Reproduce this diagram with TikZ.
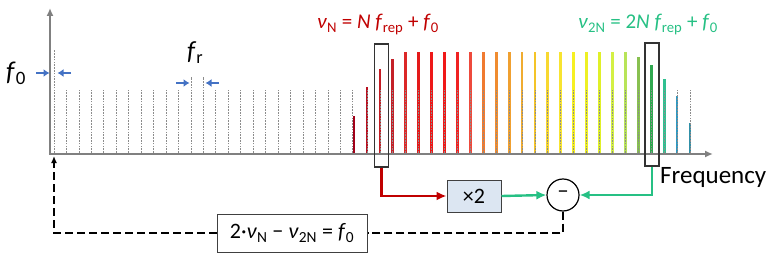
\documentclass[tikz,border=0pt]{standalone}
\usepackage{fontspec}
\setmainfont{Carlito}
\usetikzlibrary{arrows.meta,positioning}

\definecolor{combred}{HTML}{C00000}
\definecolor{combgreen}{HTML}{26C084}
\definecolor{gapblue}{HTML}{4472C4}
\definecolor{axisgray}{HTML}{808080}
\definecolor{opfill}{HTML}{DCE6F2}

\begin{document}
\begin{tikzpicture}[x=1pt,y=-1pt,
    axis/.style={draw=axisgray,line width=2.4pt,-{Latex[length=8pt,width=7pt]}},
    tooth/.style={draw=black!45,line width=0.8pt,dash pattern=on 1.6pt off 1.2pt},
    mode/.style={line width=2.8pt},
    pick/.style={draw=black!80,line width=1.2pt,minimum width=14pt,
        minimum height=123pt,inner sep=0pt},
    gap/.style={draw=gapblue,line width=2.4pt,-{Latex[length=6pt,width=8pt]}},
    opbox/.style={draw=black!75,line width=1pt,fill=opfill,
        minimum width=54pt,minimum height=32pt,font=\fontsize{22}{24}\selectfont},
    opcirc/.style={draw=black,line width=1.2pt,circle,minimum size=32pt,
        inner sep=0pt,font=\fontsize{22}{24}\selectfont},
    result/.style={draw=black!75,line width=1pt,minimum width=150pt,
        minimum height=38pt,font=\fontsize{22}{24}\selectfont},
    feed/.style={line width=2.4pt,-{Latex[length=10pt,width=9pt]}},
    back/.style={line width=2.4pt,dash pattern=on 8pt off 4pt},
    lbl/.style={inner sep=0pt,anchor=base west}
]
\useasboundingbox (0,0) rectangle (777,262);

% axes
\coordinate (origin) at (50,154);
\coordinate (ytop) at (50,8);
\coordinate (xend) at (713,154);
\draw[axis] (origin) -- (ytop);
\draw[axis] ([xshift=-1.2pt]origin) -- (xend);

% coloured modes
\foreach \k/\top/\col in {24/116/A00018,25/87/B81020,26/69/C41C24,27/59/C42028,
    28/52/DC2828,29/52/E41A1A,30/52/EE1818,31/52/F01818,32/52/F02222,
    33/52/EE4A3C,34/52/F07A30,35/52/F08C30,36/52/F0A030,37/52/F0AC30,
    38/52/F4C428,39/52/F8D830,40/52/F8E430,41/52/F6F020,42/52/EEF024,
    43/52/E0F028,44/52/D4F044,45/52/B8E458,46/57/88C050,47/65/30A850,
    48/79/30C090,49/96/3098C0,50/123/3090A8}{
  \pgfmathsetmacro\xk{367+12.92*(\k-25)}
  \definecolor{modecol}{HTML}{\col}
  \draw[mode,draw=modecol] (\xk,152.8) -- (\xk,\top);
}

% comb teeth
\draw[tooth] (54,152.8) -- (54,50);
\foreach \k in {1,...,50}{
  \pgfmathsetmacro\xk{ifthenelse(\k<25,54+12.45*\k,367+12.92*(\k-25))}
  \pgfmathsetmacro\tk{ifthenelse(\k==11 || \k==12,77,90)}
  \draw[tooth] (\xk,152.8) -- (\xk,\tk);
}

% offset and spacing
\node[lbl,font=\fontsize{27}{28}\selectfont] (lblf0) at (6,81) {\textit{f}\textsubscript{0}};
\draw[gap] (36,73) -- (49.5,73);
\draw[gap] (71,73) -- (57.5,73);
\node[lbl,font=\fontsize{26}{28}\selectfont] (lblfr) at (187,60) {\textit{f}\textsubscript{r}};
\draw[gap] (176,83) -- (189.5,83);
\draw[gap] (219,83) -- (205.5,83);

% selected modes
\node[pick] (boxN) at (381.5,105.5) {};
\node[pick] (box2N) at (652,104.5) {};
\node[lbl,text=combred,font=\fontsize{21}{24}\selectfont] (nuN) at (317,29)
    {\textit{ν}\textsubscript{N} = \textit{N f}\textsubscript{rep} + \textit{f}\textsubscript{0}};
\node[lbl,text=combgreen,font=\fontsize{21}{24}\selectfont] (nu2N) at (578,29)
    {\textit{ν}\textsubscript{2N} = 2\textit{N f}\textsubscript{rep} + \textit{f}\textsubscript{0}};
\node[lbl,font=\fontsize{25}{27}\selectfont] (freq) at (660,183) {Frequency};

% beat detection
\node[opbox] (times2) at (474,196) {×2};
\node[opcirc] (minus) at (563,195) {−};
\node[result] (beat) at (292,233)
    {2·\textit{ν}\textsubscript{N} − \textit{ν}\textsubscript{2N} = \textit{f}\textsubscript{0}};
\coordinate (foot) at (54,156);

\draw[feed,draw=combred] (boxN.south) |- (times2.west);
\draw[feed,draw=combgreen] (times2.east) -- (minus.west);
\draw[feed,draw=combgreen] (box2N.south) |- (minus.east);
\draw[back] (minus.south) |- (beat.east);
\draw[back,-{Latex[length=7pt,width=6pt]}] (beat.west) -| (foot);
\end{tikzpicture}
\end{document}
